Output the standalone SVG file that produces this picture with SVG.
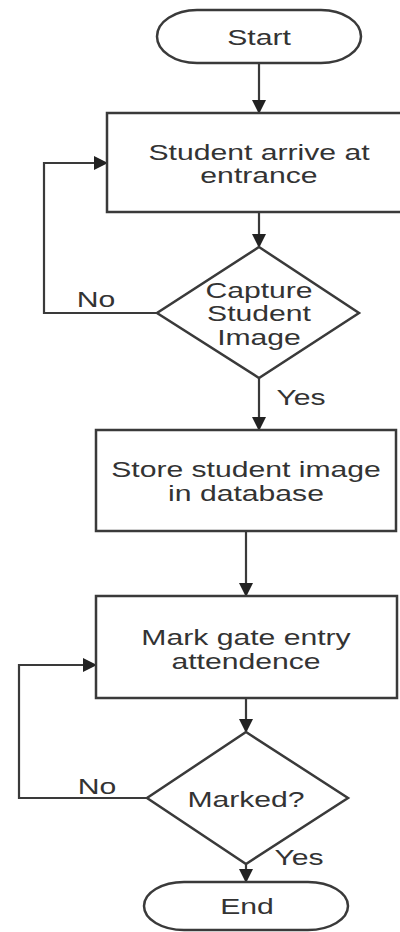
<svg xmlns="http://www.w3.org/2000/svg" width="400" height="932" viewBox="0 0 400 932">
<style>
.shape{fill:#fff;stroke:#3a3a3a;stroke-width:2.5}
.conn{fill:none;stroke:#3a3a3a;stroke-width:2.2}
.t{font-family:"Liberation Sans",Arial,sans-serif;font-size:22px;fill:#333;text-anchor:middle}
</style>
<defs>
<marker id="arr" markerUnits="userSpaceOnUse" markerWidth="14" markerHeight="14" refX="13" refY="7" orient="auto" viewBox="0 0 14 14">
<path d="M0,0 L14,7 L0,14 z" fill="#222"/>
</marker>
</defs>
<rect width="400" height="932" fill="#fff"/>
<g id="connectors">
<line class="conn" x1="259" y1="63" x2="259" y2="113" marker-end="url(#arr)"/>
<line class="conn" x1="259" y1="212" x2="259" y2="247" marker-end="url(#arr)"/>
<polyline class="conn" points="157,313 44,313 44,163 107,163" marker-end="url(#arr)"/>
<line class="conn" x1="259" y1="378" x2="259" y2="430" marker-end="url(#arr)"/>
<line class="conn" x1="246" y1="531" x2="246" y2="596" marker-end="url(#arr)"/>
<line class="conn" x1="246" y1="698" x2="246" y2="732" marker-end="url(#arr)"/>
<polyline class="conn" points="147,798 19,798 19,665 96,665" marker-end="url(#arr)"/>
<line class="conn" x1="246" y1="864" x2="246" y2="882" marker-end="url(#arr)"/>
<text class="t" transform="translate(96,307) scale(1.37,1)">No</text>
<text class="t" transform="translate(301,405) scale(1.37,1)">Yes</text>
<text class="t" transform="translate(97,794) scale(1.37,1)">No</text>
<text class="t" transform="translate(299,865) scale(1.37,1)">Yes</text>
</g>
<g id="start">
<rect class="shape" x="157" y="10" width="204" height="53" rx="40" ry="26.5"/>
<text class="t" transform="translate(259,45) scale(1.37,1)">Start</text>
</g>
<g id="arrive">
<rect class="shape" x="107" y="113" width="310" height="99"/>
<text class="t" transform="translate(259,160) scale(1.37,1)">Student arrive at</text>
<text class="t" transform="translate(259,183) scale(1.37,1)">entrance</text>
</g>
<g id="capture">
<polygon class="shape" points="259,247 359,313 259,378 157,313"/>
<text class="t" transform="translate(259,298) scale(1.37,1)">Capture</text>
<text class="t" transform="translate(259,321) scale(1.37,1)">Student</text>
<text class="t" transform="translate(259,345) scale(1.37,1)">Image</text>
</g>
<g id="store">
<rect class="shape" x="96" y="430" width="300" height="101"/>
<text class="t" transform="translate(246,477) scale(1.37,1)">Store student image</text>
<text class="t" transform="translate(246,501) scale(1.37,1)">in database</text>
</g>
<g id="mark">
<rect class="shape" x="96" y="596" width="301" height="102"/>
<text class="t" transform="translate(246,645) scale(1.37,1)">Mark gate entry</text>
<text class="t" transform="translate(246,669) scale(1.37,1)">attendence</text>
</g>
<g id="marked">
<polygon class="shape" points="246,732 348,798 246,864 147,798"/>
<text class="t" transform="translate(246,807) scale(1.37,1)">Marked?</text>
</g>
<g id="end">
<rect class="shape" x="144" y="882" width="204" height="48" rx="40" ry="24"/>
<text class="t" transform="translate(247,914) scale(1.37,1)">End</text>
</g>
</svg>
